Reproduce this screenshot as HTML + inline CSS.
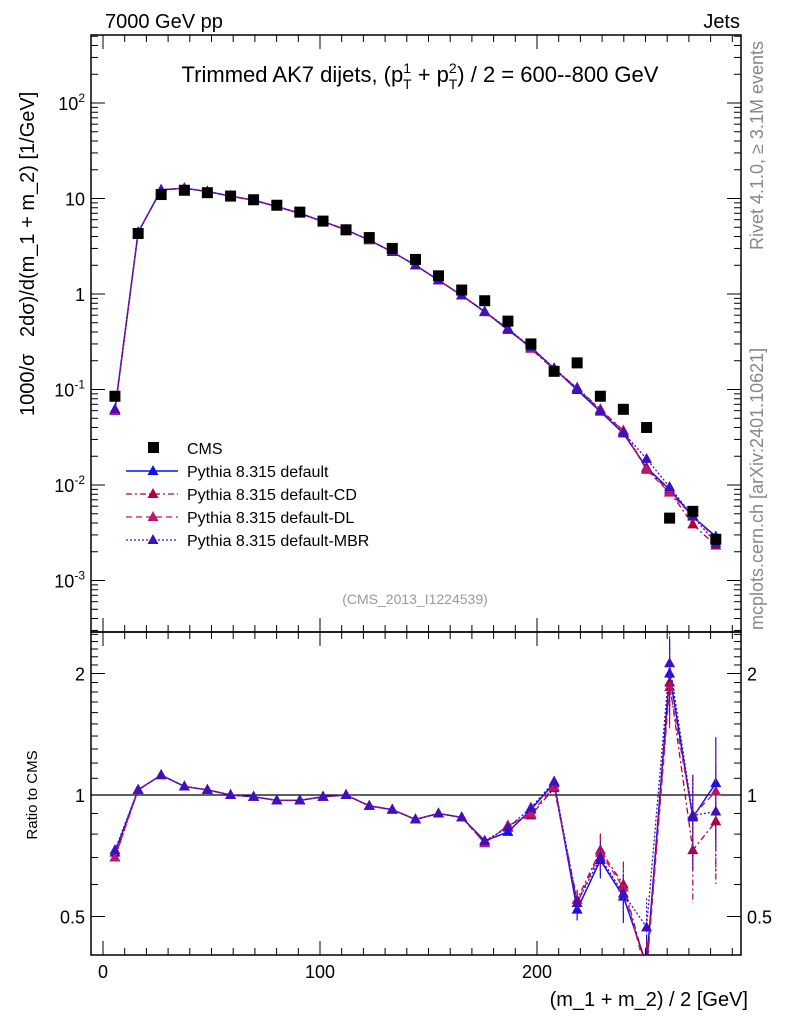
<!DOCTYPE html>
<html><head><meta charset="utf-8"><style>
body{margin:0;background:#fff;}
svg text{font-family:"Liberation Sans",sans-serif;white-space:pre;}
</style></head><body>
<svg id="c" width="786" height="1024" xmlns="http://www.w3.org/2000/svg">
<rect width="786" height="1024" fill="#fff"/>
<text x="105" y="28" font-size="20">7000 GeV pp</text>
<text x="740" y="28" font-size="20" text-anchor="end">Jets</text>
<text x="420" y="82" font-size="22" text-anchor="middle">Trimmed AK7 dijets, (p<tspan font-size="14" dy="-9">1</tspan><tspan font-size="14" dx="-8" dy="16">T</tspan><tspan dy="-7"> + p</tspan><tspan font-size="14" dy="-9">2</tspan><tspan font-size="14" dx="-8" dy="16">T</tspan><tspan dy="-7">) / 2 = 600--800 GeV</tspan></text>
<text x="415" y="604" font-size="14" fill="#999" text-anchor="middle">(CMS_2013_I1224539)</text>
<text transform="translate(763,250) rotate(-90)" font-size="18" fill="#888">Rivet 4.1.0, ≥ 3.1M events</text>
<text transform="translate(763,630) rotate(-90)" font-size="18" fill="#888">mcplots.cern.ch [arXiv:2401.10621]</text>
<text transform="translate(34,416) rotate(-90)" font-size="20">1000/σ   2dσ)/d(m_1 + m_2) [1/GeV]</text>
<text transform="translate(37,795) rotate(-90)" font-size="15" text-anchor="middle">Ratio to CMS</text>
<text x="748" y="1006" font-size="20" text-anchor="end">(m_1 + m_2) / 2 [GeV]</text>
<g id="g"></g>
</svg>
<script>
const centers=[5.5,16.2,26.8,37.5,48.1,58.8,69.4,80.1,90.7,101.4,112,122.7,133.3,144,154.6,165.3,175.9,186.6,197.2,207.9,218.5,229.2,239.8,250.5,261.1,271.8,282.4];
const cms=[0.085,4.3,11,12.2,11.5,10.6,9.7,8.5,7.2,5.8,4.7,3.9,3.0,2.3,1.55,1.1,0.85,0.52,0.3,0.155,0.19,0.085,0.062,0.04,0.0045,0.0053,0.0027];
const ratioDefault=[0.72,1.03,1.12,1.05,1.03,1.0,0.99,0.97,0.97,0.99,1.0,0.94,0.92,0.87,0.9,0.88,0.77,0.81,0.92,1.07,0.52,0.69,0.56,0.38,2.0,0.88,1.07];
const ratioCD=[0.70,1.03,1.12,1.05,1.03,1.0,0.99,0.97,0.97,0.99,1.0,0.94,0.92,0.87,0.9,0.88,0.76,0.84,0.89,1.04,0.55,0.73,0.60,0.37,1.90,0.73,0.86];
const ratioDL=[0.70,1.03,1.12,1.05,1.03,1.0,0.99,0.97,0.97,0.99,1.0,0.94,0.92,0.87,0.9,0.88,0.76,0.84,0.90,1.05,0.54,0.72,0.59,0.36,1.85,0.89,1.02];
const ratioMBR=[0.73,1.03,1.12,1.05,1.03,1.0,0.99,0.97,0.97,0.99,1.0,0.94,0.92,0.87,0.9,0.88,0.77,0.83,0.93,1.08,0.54,0.70,0.57,0.47,2.12,0.89,0.91];
const seriesNames=["Pythia 8.315 default","Pythia 8.315 default-CD","Pythia 8.315 default-DL","Pythia 8.315 default-MBR"];
const NS="http://www.w3.org/2000/svg";const g=document.getElementById('g');
function el(t,a,p){const e=document.createElementNS(NS,t);for(const k in a)e.setAttribute(k,a[k]);(p||g).appendChild(e);return e;}
const L=91,R=741,T=35,MB=632,RB=955;
const X=v=>103+v*2.17;
const Y=v=>103-(Math.log10(v)-2)*95.5;
const YR=v=>795-Math.log2(v)*121.5;
const styles=[{c:"#1010f0",d:"",w:1.5},{c:"#b0003c",d:"6,3,2,3",w:1.3},{c:"#c01868",d:"6,4",w:1.3},{c:"#4010c0",d:"2,2",w:1.3}];
const ratios=[ratioDefault,ratioCD,ratioDL,ratioMBR];
const defs=el('defs',{});
let cp=el('clipPath',{id:'cm'},defs);el('rect',{x:L,y:T,width:R-L,height:MB-T},cp);
cp=el('clipPath',{id:'cr'},defs);el('rect',{x:L,y:MB,width:R-L,height:RB-MB},cp);
let f=el('rect',{x:L,y:T,width:R-L,height:MB-T,fill:'none',stroke:'#000','stroke-width':1.5});

f=el('rect',{x:L,y:MB,width:R-L,height:RB-MB,fill:'none',stroke:'#000','stroke-width':1.5});

for(let v=0;v<=290;v+=10){const x=X(v);const big=v%100==0;const l=big?14:7;
 el('line',{x1:x,x2:x,y1:T,y2:T+l,stroke:'#000'});el('line',{x1:x,x2:x,y1:MB,y2:MB-l,stroke:'#000'});
 el('line',{x1:x,x2:x,y1:MB,y2:MB+l,stroke:'#000'});el('line',{x1:x,x2:x,y1:RB,y2:RB-l,stroke:'#000'});
 if(big){const t=el('text',{x:x,y:978,'font-size':18,'text-anchor':'middle'});t.textContent=v;
 }}
for(let e=-4;e<=2;e++){for(let m=1;m<10;m++){const v=m*Math.pow(10,e);const y=Y(v);if(y<T||y>MB)continue;const l=m==1?14:7;
 el('line',{x1:L,x2:L+l,y1:y,y2:y,stroke:'#000'});el('line',{x1:R,x2:R-l,y1:y,y2:y,stroke:'#000'});
 if(m==1){const t=el('text',{x:L-6,y:y+7,'font-size':18,'text-anchor':'end'});
 if(e==0)t.textContent='1';else if(e==1)t.textContent='10';else{t.textContent='10';const s=el('tspan',{'font-size':12,dy:-8},t);s.textContent=e;}
 }}}
for(let i=4;i<=25;i++){const v=i/10;const y=YR(v);if(y<MB||y>RB)continue;const big=(i==5||i==10||i==20);const l=big?14:7;
 el('line',{x1:L,x2:L+l,y1:y,y2:y,stroke:'#000'});el('line',{x1:R,x2:R-l,y1:y,y2:y,stroke:'#000'});}
[[0.5,'0.5'],[1,'1'],[2,'2']].forEach(([v,s])=>{const y=YR(v);
 let t=el('text',{x:L-6,y:y+7,'font-size':18,'text-anchor':'end'});t.textContent=s;
 t=el('text',{x:R+6,y:y+7,'font-size':18});t.textContent=s;});
el('line',{x1:L,x2:R,y1:YR(1),y2:YR(1),stroke:'#000','stroke-width':1.2});
function tri(x,y,c,p){return el('polygon',{points:`${x},${y-6} ${x-5.5},${y+4} ${x+5.5},${y+4}`,fill:c},p);}
const gm=el('g',{'clip-path':'url(#cm)'}),gr=el('g',{'clip-path':'url(#cr)'});
styles.forEach((s,k)=>{const r=ratios[k];
 const pm=centers.map((c,i)=>X(c)+','+Y(cms[i]*r[i])).join(' ');
 let pl=el('polyline',{points:pm,fill:'none',stroke:s.c,'stroke-width':s.w,'stroke-dasharray':s.d},gm);
 
 const pr=centers.map((c,i)=>X(c)+','+YR(r[i])).join(' ');
 pl=el('polyline',{points:pr,fill:'none',stroke:s.c,'stroke-width':s.w,'stroke-dasharray':s.d},gr);
 
 centers.forEach((c,i)=>{
  if(i>=20){const e=0.06+0.04*(i-20);const x=X(c);
   el('line',{x1:x,x2:x,y1:YR(r[i]*(1+e)),y2:YR(r[i]*(1-e)),stroke:s.c,'stroke-width':1.2,'stroke-dasharray':s.d},gr);}
  let t=tri(X(c),Y(cms[i]*r[i]),s.c,gm);
  t=tri(X(c),YR(r[i]),s.c,gr);});
});
centers.forEach((c,i)=>{const r=el('rect',{x:X(c)-5.5,y:Y(cms[i])-5.5,width:11,height:11,fill:'#000'},gm);
 });
const lg=el('g',{});
el('rect',{x:148,y:442,width:11,height:11,fill:'#000'},lg);
let tx=el('text',{x:187,y:454,'font-size':16},lg);tx.textContent='CMS';
styles.forEach((s,k)=>{const y=471+k*23;
 el('line',{x1:126,x2:178,y1:y,y2:y,stroke:s.c,'stroke-width':s.w,'stroke-dasharray':s.d},lg);tri(153,y,s.c,lg);
 const t=el('text',{x:187,y:y+6,'font-size':16},lg);t.textContent=seriesNames[k];
 });
</script>
</body></html>
